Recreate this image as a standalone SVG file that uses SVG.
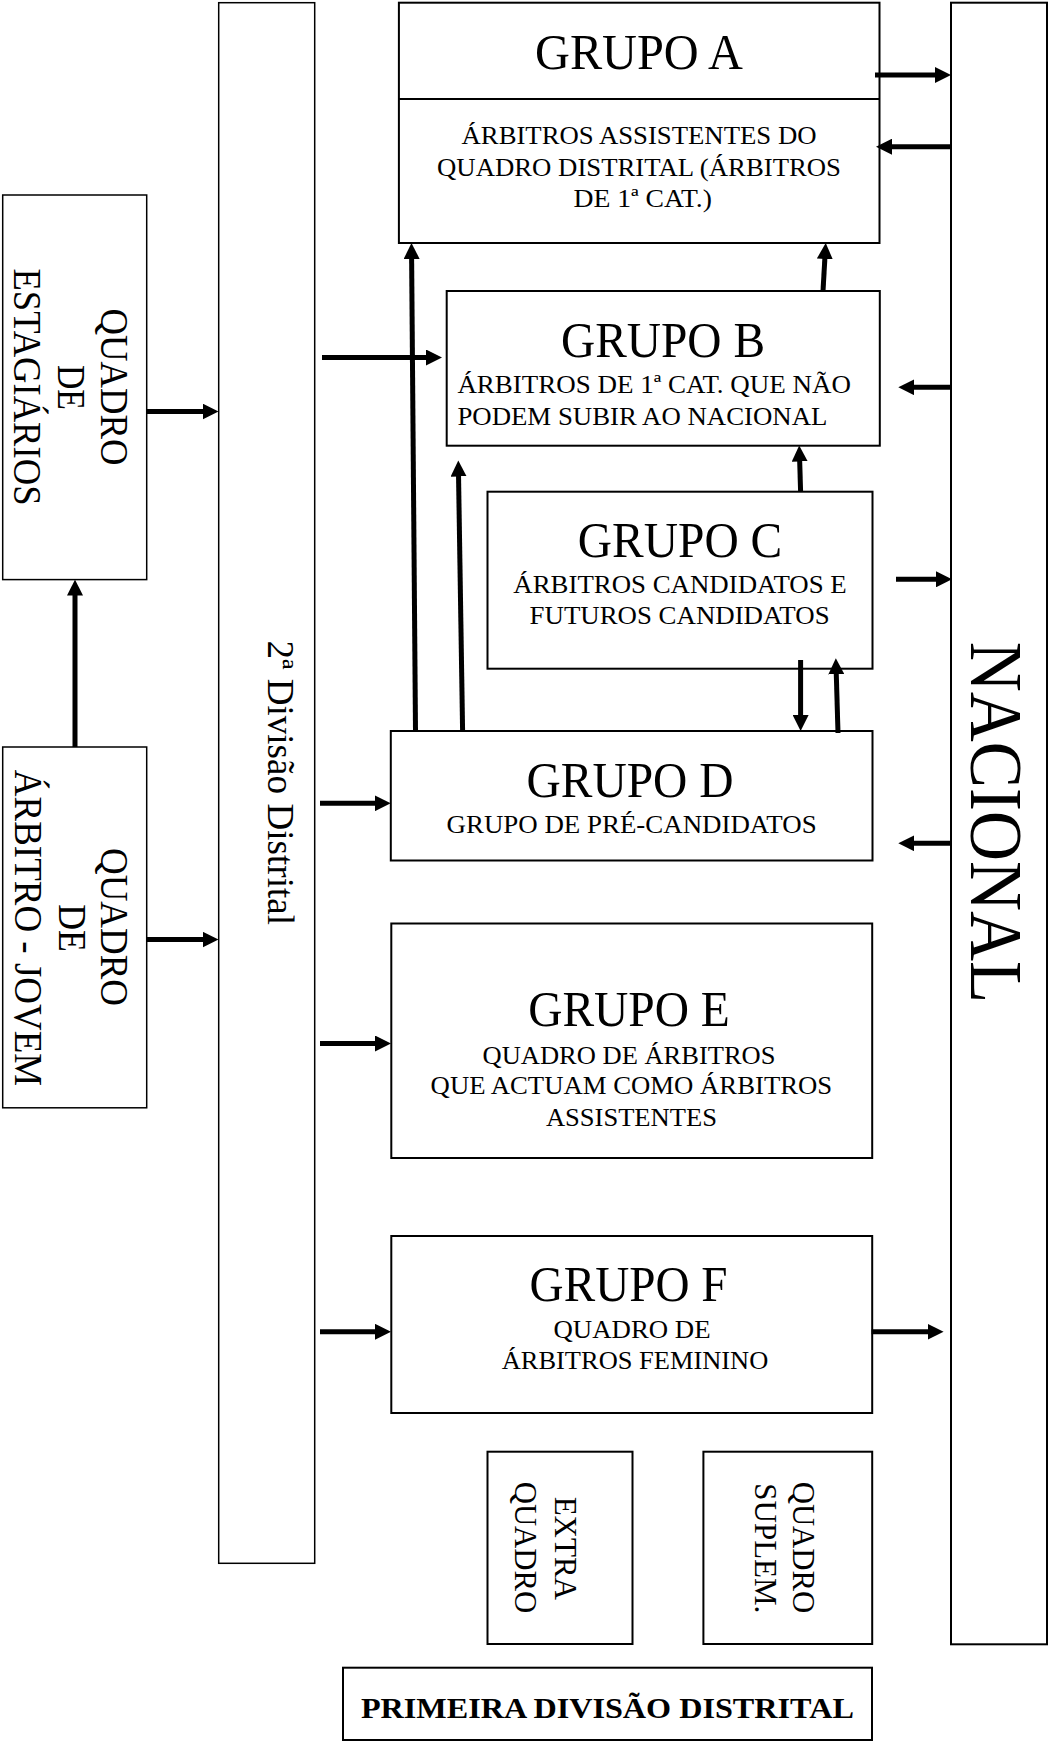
<svg xmlns="http://www.w3.org/2000/svg" width="1053" height="1742" viewBox="0 0 1053 1742">
<style>
  .box{fill:#fff;stroke:#000;stroke-width:2}
  .thin{fill:#fff;stroke:#000;stroke-width:1.5}
  .t{font-family:"Liberation Serif","Times New Roman",serif;fill:#000}
  .title{font-size:51px;text-anchor:middle}
  .body{font-size:26px;text-anchor:middle}
  .vert{font-size:39px;text-anchor:middle}
  .conn{stroke:#000;stroke-width:5;fill:none;marker-end:url(#ah)}
</style>
<defs>
  <marker id="ah" markerUnits="userSpaceOnUse" viewBox="0 0 16 16" markerWidth="16" markerHeight="16" refX="3" refY="8" orient="auto">
    <path d="M0,0 L16,8 L0,16 z" fill="#000"/>
  </marker>
</defs>
<rect width="1053" height="1742" fill="#fff"/>

<g id="segunda-divisao">
  <rect class="thin" x="218.7" y="2.7" width="96" height="1560.6"/>
  <text class="t" font-size="37" text-anchor="middle" transform="translate(268.3,782.8) rotate(90)" textLength="284.5" lengthAdjust="spacingAndGlyphs">2ª Divisão Distrital</text>
</g>

<g id="quadro-estagiarios">
  <rect class="thin" x="2.7" y="195" width="144" height="384.6"/>
  <text class="t vert" transform="translate(101,387) rotate(90)" textLength="157" lengthAdjust="spacingAndGlyphs">QUADRO</text>
  <text class="t vert" transform="translate(58,387.5) rotate(90)" textLength="45" lengthAdjust="spacingAndGlyphs">DE</text>
  <text class="t vert" transform="translate(14,387) rotate(90)" textLength="237" lengthAdjust="spacingAndGlyphs">ESTAGIÁRIOS</text>
</g>

<g id="quadro-arbitro-jovem">
  <rect class="thin" x="2.7" y="747" width="144" height="360.8"/>
  <text class="t vert" transform="translate(101.4,927) rotate(90)" textLength="158" lengthAdjust="spacingAndGlyphs">QUADRO</text>
  <text class="t vert" transform="translate(59,928) rotate(90)" textLength="47.7" lengthAdjust="spacingAndGlyphs">DE</text>
  <text class="t vert" transform="translate(15.2,928) rotate(90)" textLength="316.5" lengthAdjust="spacingAndGlyphs">ÁRBITRO - JOVEM</text>
</g>

<g id="grupo-a">
  <rect class="box" x="398.9" y="2.7" width="480.6" height="240.3"/>
  <line x1="398.9" y1="99" x2="879.5" y2="99" stroke="#000" stroke-width="2"/>
  <text class="t title" x="639" y="69" textLength="208" lengthAdjust="spacingAndGlyphs">GRUPO A</text>
  <text class="t body" x="639" y="144" textLength="355" lengthAdjust="spacingAndGlyphs">ÁRBITROS ASSISTENTES DO</text>
  <text class="t body" x="639" y="175.7" textLength="404" lengthAdjust="spacingAndGlyphs">QUADRO DISTRITAL (ÁRBITROS</text>
  <text class="t body" x="642.7" y="207.3" textLength="138.5" lengthAdjust="spacingAndGlyphs">DE 1ª CAT.)</text>
</g>

<g id="grupo-b">
  <rect class="box" x="446.7" y="291" width="433.1" height="154.7"/>
  <text class="t title" x="663" y="356.7" textLength="204" lengthAdjust="spacingAndGlyphs">GRUPO B</text>
  <text class="t" font-size="26" x="457.4" y="393.3" textLength="393.6" lengthAdjust="spacingAndGlyphs">ÁRBITROS DE 1ª CAT. QUE NÃO</text>
  <text class="t" font-size="26" x="457.4" y="425" textLength="370" lengthAdjust="spacingAndGlyphs">PODEM SUBIR AO NACIONAL</text>
</g>

<g id="grupo-c">
  <rect class="box" x="487.5" y="491.7" width="385" height="177"/>
  <text class="t title" x="680" y="556.7" textLength="204.4" lengthAdjust="spacingAndGlyphs">GRUPO C</text>
  <text class="t body" x="680" y="593.3" textLength="333.4" lengthAdjust="spacingAndGlyphs">ÁRBITROS CANDIDATOS E</text>
  <text class="t body" x="679.6" y="624.3" textLength="300" lengthAdjust="spacingAndGlyphs">FUTUROS CANDIDATOS</text>
</g>

<g id="grupo-d">
  <rect class="box" x="390.8" y="731" width="481.7" height="129.5"/>
  <text class="t title" x="630" y="796.7" textLength="207" lengthAdjust="spacingAndGlyphs">GRUPO D</text>
  <text class="t body" x="631.6" y="833.3" textLength="370" lengthAdjust="spacingAndGlyphs">GRUPO DE PRÉ-CANDIDATOS</text>
</g>

<g id="grupo-e">
  <rect class="box" x="391.3" y="923.5" width="480.9" height="234.5"/>
  <text class="t title" x="629" y="1026.4" textLength="201.7" lengthAdjust="spacingAndGlyphs">GRUPO E</text>
  <text class="t body" x="629" y="1063.9" textLength="293" lengthAdjust="spacingAndGlyphs">QUADRO DE ÁRBITROS</text>
  <text class="t body" x="631.4" y="1094.3" textLength="401.6" lengthAdjust="spacingAndGlyphs">QUE ACTUAM COMO ÁRBITROS</text>
  <text class="t body" x="631.4" y="1126.4" textLength="171" lengthAdjust="spacingAndGlyphs">ASSISTENTES</text>
</g>

<g id="grupo-f">
  <rect class="box" x="391.3" y="1236" width="480.9" height="177"/>
  <text class="t title" x="628.6" y="1301.4" textLength="198" lengthAdjust="spacingAndGlyphs">GRUPO F</text>
  <text class="t body" x="632" y="1338.2" textLength="157" lengthAdjust="spacingAndGlyphs">QUADRO DE</text>
  <text class="t body" x="635" y="1368.6" textLength="266.6" lengthAdjust="spacingAndGlyphs">ÁRBITROS FEMININO</text>
</g>

<g id="extra-quadro">
  <rect class="box" x="487.5" y="1451.7" width="145" height="192.3"/>
  <text class="t" font-size="31" text-anchor="middle" transform="translate(555,1548.3) rotate(90)" textLength="103.3" lengthAdjust="spacingAndGlyphs">EXTRA</text>
  <text class="t" font-size="31" text-anchor="middle" transform="translate(515,1547.5) rotate(90)" textLength="131.7" lengthAdjust="spacingAndGlyphs">QUADRO</text>
</g>

<g id="quadro-suplem">
  <rect class="box" x="703.4" y="1451.7" width="168.8" height="192.3"/>
  <text class="t" font-size="31" text-anchor="middle" transform="translate(793,1547.5) rotate(90)" textLength="131.7" lengthAdjust="spacingAndGlyphs">QUADRO</text>
  <text class="t" font-size="31" text-anchor="middle" transform="translate(755,1548.3) rotate(90)" textLength="130" lengthAdjust="spacingAndGlyphs">SUPLEM.</text>
</g>

<g id="nacional">
  <rect class="box" x="951" y="2.7" width="96" height="1641.6"/>
  <text class="t" font-size="73" text-anchor="middle" transform="translate(971,822.5) rotate(90)" textLength="361.5" lengthAdjust="spacingAndGlyphs">NACIONAL</text>
</g>

<g id="primeira-divisao">
  <rect class="box" x="343" y="1667.7" width="529" height="72.3"/>
  <text class="t" font-size="30" font-weight="bold" text-anchor="middle" x="607.4" y="1718.3" textLength="493" lengthAdjust="spacingAndGlyphs">PRIMEIRA DIVISÃO DISTRITAL</text>
</g>

<g id="connectors">
  <path class="conn" d="M75,747 L75,592.6"/>
  <path class="conn" d="M147,411.5 L205.5,411.5"/>
  <path class="conn" d="M147,939.6 L205.5,939.6"/>
  <path class="conn" d="M322,357.5 L429,357.5"/>
  <path class="conn" d="M320,803.3 L377.7,803.3"/>
  <path class="conn" d="M320,1043.5 L378,1043.5"/>
  <path class="conn" d="M320,1331.8 L378,1331.8"/>
  <path class="conn" d="M415.5,731 L411.6,256"/>
  <path class="conn" d="M462.6,731 L458.5,473.5"/>
  <path class="conn" d="M823,291 L825,256"/>
  <path class="conn" d="M800.6,491.7 L799.6,458.5"/>
  <path class="conn" d="M800.6,660 L800.6,718"/>
  <path class="conn" d="M838,733 L836.2,671.3"/>
  <path class="conn" d="M875,75 L938,75"/>
  <path class="conn" d="M951,146.7 L889,146.7"/>
  <path class="conn" d="M951,387.3 L911.3,387.3"/>
  <path class="conn" d="M896,579.3 L939,579.3"/>
  <path class="conn" d="M951,843.3 L911.3,843.3"/>
  <path class="conn" d="M871.6,1331.8 L930.6,1331.8"/>
</g>
</svg>
